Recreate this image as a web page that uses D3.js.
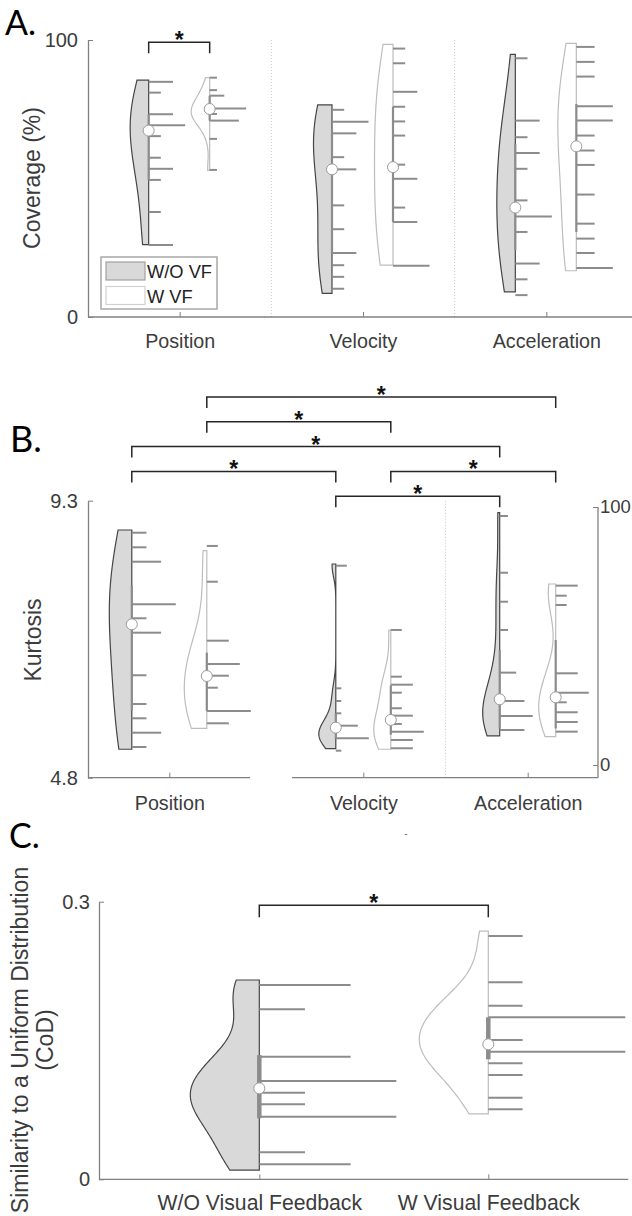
<!DOCTYPE html>
<html>
<head>
<meta charset="utf-8">
<script src="https://cdn.jsdelivr.net/npm/d3@7"></script>
<style>
  body { margin: 0; background: #fff; }
  svg { display: block; font-family: "Liberation Sans", Arial, sans-serif; }
</style>
</head>
<body>
<script>
// ---------------- data (bins: [bin centre, number of participants]) ----------------
const groups = ["W/O VF", "W VF"];

// A. Coverage (%)
const covCategories = ["Position", "Velocity", "Acceleration"];
const covBinsWO = [
  [[84.9,2],[81.0,1],[73.2,2],[69.2,3],[65.3,1],[57.5,1],[53.5,2],[49.5,1],[37.9,1],[26.0,2]],
  [[74.8,1],[70.5,3],[66.3,2],[57.7,1],[53.3,2],[40.3,1],[31.7,1],[23.1,2],[18.7,1],[14.5,1],[10.2,1]],
  [[93.4,1],[70.9,2],[64.9,1],[59.2,2],[53.5,1],[42.1,1],[36.3,3],[30.7,1],[19.3,2],[13.6,1],[7.9,1]]
];
const covBinsW = [
  [[86.4,1],[81.9,1],[79.9,2],[75.3,5],[73.3,1],[70.9,4],[64.3,1],[53.1,1]],
  [[96.9,1],[91.6,1],[81.3,2],[75.9,1],[70.6,1],[65.5,1],[55.0,1],[49.9,2],[39.5,1],[34.3,2],[18.5,3]],
  [[97.5,1],[92.1,1],[86.8,1],[76.1,2],[70.9,2],[65.5,1],[60.1,1],[54.9,1],[44.2,1],[33.7,1],[28.3,1],[23.1,1],[17.7,2]]
];
const covMedianWO = [67.3, 53.3, 39.5];
const covMedianW = [75.1, 54.1, 61.6];
const covIqrWO = [[49.5, 73.2], [22.9, 67.9], [24.1, 62.5]];
const covIqrW = [[70.9, 79.9], [34.3, 75.9], [30.7, 76.9]];
const covRangeWO = [[26.1, 85.5], [8.5, 76.6], [9.1, 94.8]];
const covRangeW = [[52.9, 86.4], [18.7, 98.4], [16.7, 98.8]];

// B. Kurtosis
const kurtCategories = ["Position", "Velocity", "Acceleration"];
const kurtBinsWO = [
  [[8.780,1],[8.543,1],[8.309,2],[7.617,3],[7.390,1],[7.156,2],[6.464,1],[5.997,1],[5.765,1],[5.531,2],[5.299,1]],
  [[8.244,2],[6.252,1],[6.046,1],[5.846,1],[5.645,4],[5.440,6],[5.239,1]],
  [[9.051,1],[8.130,1],[7.659,1],[7.200,1],[6.507,2],[6.046,3],[5.803,4],[5.575,3]]
];
const kurtBinsW = [
  [[8.565,1],[7.984,1],[7.026,2],[6.647,3],[6.457,2],[6.262,1],[5.884,4],[5.684,2]],
  [[7.200,1],[6.441,1],[6.311,2],[6.181,1],[5.928,1],[5.808,2],[5.673,1],[5.548,3],[5.413,2],[5.278,2]],
  [[7.920,2],[7.757,1],[7.606,1],[6.496,2],[6.181,3],[6.025,1],[5.863,2],[5.705,2],[5.548,2]]
];
const kurtMedianWO = [7.292, 5.613, 6.074];
const kurtMedianW = [6.452, 5.738, 6.106];
const kurtIqrWO = [[5.894, 7.925], [5.44, 5.85], [5.60, 6.875]];
const kurtIqrW = [[5.884, 6.832], [5.50, 6.30], [5.60, 7.037]];
const kurtRangeWO = [[5.262, 8.824], [5.271, 8.272], [5.478, 9.105]];
const kurtRangeW = [[5.602, 8.488], [5.262, 7.197], [5.466, 7.947]];
// significant pairs: [category, group] -> [category, group], bracket level (0 = top)
const kurtPairs = [
  [[0,1],[2,1],0], [[0,1],[1,1],1], [[0,0],[2,0],2],
  [[0,0],[1,0],3], [[1,1],[2,1],3], [[1,0],[2,0],4]
];

// C. Similarity to a uniform distribution (CoD)
const codCategories = ["W/O Visual Feedback", "W Visual Feedback"];
const codBins = [
  [[0.2100,2],[0.1837,1],[0.1325,2],[0.1062,3],[0.0936,1],[0.0810,1],[0.0677,3],[0.0292,1],[0.0162,2]],
  [[0.2629,1],[0.2129,1],[0.1876,1],[0.1751,4],[0.1505,1],[0.1379,4],[0.1254,1],[0.1127,1],[0.0882,1],[0.0756,1]]
];
const codMedian = [0.0983, 0.1459];
const codIqr = [[0.0659, 0.1343], [0.1297, 0.1751]];
const codRange = [[0.0100, 0.2154], [0.0706, 0.2683]];

// ---------------- drawing ----------------
var W = 632, H = 1216;
var axisColor = "#808080", textColor = "#3c3c3c", lineColor = "#8c8c8c";

var svg = d3.select("body").append("svg")
    .attr("width", W)
    .attr("height", H);
svg.append("rect").attr("width", W).attr("height", H).attr("fill", "#fff");

// kernel density (normal kernel, ksdensity-like bandwidth) over the data range
function kde(bins, range) {
    var vals = bins.flatMap(d => d3.range(d[1]).map(() => d[0]));
    var med = d3.median(vals);
    var mad = d3.median(vals, v => Math.abs(v - med));
    var h = mad / 0.6745 * Math.pow(4 / (3 * vals.length), 0.2);
    return d3.range(121).map(i => {
        var y = range[0] + (range[1] - range[0]) * i / 120;
        return [y, d3.sum(bins, d => d[1] * Math.exp(-0.5 * Math.pow((y - d[0]) / h, 2)))];
    });
}

function drawViolin(g, v) {
    var dens = kde(v.bins, v.range);
    var dmax = d3.max(dens, d => d[1]);
    var area = d3.area()
        .x0(v.edge)
        .x1(d => v.edge - v.maxWidth * d[1] / dmax)
        .y(d => v.y(d[0]));

    g.append("path")
        .attr("d", area(dens))
        .attr("fill", v.filled ? "#d9d9d9" : "#fff")
        .attr("stroke", v.filled ? "#454545" : "#bdbdbd")
        .attr("stroke-width", 1.2);

    var len = d3.scaleLinear()
        .domain([0, d3.max(v.bins, d => d[1])])
        .range([0, v.maxLen]);

    g.append("g").selectAll("line")
        .data(v.bins)
        .join("line")
        .attr("x1", v.edge)
        .attr("x2", d => v.edge + len(d[1]))
        .attr("y1", d => v.y(d[0]))
        .attr("y2", d => v.y(d[0]))
        .attr("stroke", lineColor)
        .attr("stroke-width", 2);

    g.append("line")
        .attr("x1", v.edge).attr("x2", v.edge)
        .attr("y1", v.y(v.iqr[0])).attr("y2", v.y(v.iqr[1]))
        .attr("stroke", lineColor)
        .attr("stroke-width", v.boxWidth);

    g.append("circle")
        .attr("cx", v.edge)
        .attr("cy", v.y(v.median))
        .attr("r", 5.5)
        .attr("fill", "#fff")
        .attr("stroke", "#9a9a9a")
        .attr("stroke-width", 1);
}

function drawBracket(g, x1, x2, yLine, leg) {
    g.append("path")
        .attr("d", "M" + x1 + "," + (yLine + leg) + "V" + yLine + "H" + x2 + "V" + (yLine + leg))
        .attr("fill", "none")
        .attr("stroke", "#262626")
        .attr("stroke-width", 1.5);
    g.append("text")
        .attr("x", (x1 + x2) / 2)
        .attr("y", yLine + 6)
        .attr("text-anchor", "middle")
        .attr("font-size", 23)
        .attr("font-weight", "bold")
        .attr("fill", "#111")
        .text("*");
}

function leftAxis(g, y, x, fmt, padding) {
    g.append("g")
        .attr("transform", "translate(" + x + ",0)")
        .call(d3.axisLeft(y).tickValues(y.domain()).tickFormat(fmt)
            .tickSizeInner(-5).tickSizeOuter(0).tickPadding(padding))
        .call(s => s.select(".domain").attr("stroke", axisColor).attr("stroke-width", 1.3))
        .call(s => s.selectAll(".tick line").attr("stroke", axisColor))
        .call(s => s.selectAll(".tick text").attr("fill", textColor)
            .attr("font-size", 20).attr("font-family", null));
}

function bottomAxis(g, x, cats, yPos, fontSize, padding) {
    g.append("g")
        .attr("transform", "translate(0," + yPos + ")")
        .call(d3.axisBottom(x).tickValues(cats).tickSizeInner(-5).tickSizeOuter(0).tickPadding(padding))
        .call(s => s.select(".domain").remove())
        .call(s => s.selectAll(".tick line").attr("stroke", axisColor))
        .call(s => s.selectAll(".tick text").attr("fill", textColor)
            .attr("font-size", fontSize).attr("font-family", null));
}

function yLabel(g, lines, x, yc, dx) {
    var t = g.append("text")
        .attr("transform", "translate(" + x + "," + yc + ") rotate(-90)")
        .attr("text-anchor", "middle")
        .attr("font-size", 23)
        .attr("fill", textColor);
    lines.forEach((l, i) => t.append("tspan").attr("x", 0).attr("dy", i ? dx : 0).text(l));
}

function panelLetter(txt, x, y, size) {
    svg.append("text")
        .attr("x", x).attr("y", y)
        .attr("font-family", "Lato, 'Open Sans', sans-serif")
        .attr("font-size", size)
        .attr("fill", "#000")
        .text(txt);
}

// ===== Panel A =====
var gA = svg.append("g");
var frameA = {left: 88, right: 638, top: 40, bottom: 317};
var yA = d3.scaleLinear().domain([0, 100]).range([frameA.bottom, frameA.top]);
var xA = d3.scalePoint().domain(covCategories).range([frameA.left, frameA.right]).padding(0.5);

// dotted separators
gA.selectAll("line.sep")
    .data(covCategories.slice(1))
    .join("line")
    .attr("x1", (d, i) => (xA(covCategories[i]) + xA(d)) / 2)
    .attr("x2", (d, i) => (xA(covCategories[i]) + xA(d)) / 2)
    .attr("y1", frameA.top).attr("y2", frameA.bottom)
    .attr("stroke", "#c8c8c8").attr("stroke-dasharray", "1,2");

leftAxis(gA, yA, frameA.left, d3.format("d"), 10);
gA.append("line").attr("x1", frameA.left).attr("x2", frameA.right)
    .attr("y1", frameA.bottom).attr("y2", frameA.bottom)
    .attr("stroke", axisColor).attr("stroke-width", 1.3);
bottomAxis(gA, xA, covCategories, frameA.bottom, 19.7, 17);

covCategories.forEach((c, i) => {
    drawViolin(gA, {edge: xA(c) - 31, y: yA, bins: covBinsWO[i], median: covMedianWO[i],
        iqr: covIqrWO[i], range: covRangeWO[i], filled: true, maxWidth: 18.5, maxLen: 36.5, boxWidth: 2.2});
    drawViolin(gA, {edge: xA(c) + 30, y: yA, bins: covBinsW[i], median: covMedianW[i],
        iqr: covIqrW[i], range: covRangeW[i], filled: false, maxWidth: 18.5, maxLen: 36.5, boxWidth: 2.2});
});
drawBracket(gA, xA("Position") - 31, xA("Position") + 30, yA(99.2), 11);
yLabel(gA, ["Coverage (%)"], 40, 178, 0);

// legend
var legA = gA.append("g").attr("transform", "translate(101,257)");
legA.append("rect").attr("width", 116).attr("height", 52)
    .attr("fill", "#fff").attr("stroke", "#a8a8a8").attr("stroke-width", 1.5);
groups.forEach((gname, i) => {
    legA.append("rect")
        .attr("x", 5).attr("y", 5 + i * 24.5).attr("width", 39).attr("height", 18)
        .attr("fill", i ? "#fff" : "#d9d9d9")
        .attr("stroke", i ? "#d0d0d0" : "#a0a0a0").attr("stroke-width", 1.2);
    legA.append("text")
        .attr("x", 46).attr("y", 21 + i * 24.5)
        .attr("font-size", 18.3).attr("fill", "#222")
        .text(gname);
});
panelLetter("A.", 5, 35, 34);

// ===== Panel B =====
var gB = svg.append("g");
var frameB = {left: 88, right: 598, top: 500.7, bottom: 777.7};
var yB = d3.scaleLinear().domain([4.8, 9.3]).range([frameB.bottom, frameB.top]);
var xB = d3.scaleOrdinal().domain(kurtCategories).range([169.3, 363.3, 527.7]);
var halfGapB = d3.scaleOrdinal().domain(kurtCategories).range([37.5, 27.5, 28]);
var widthB = d3.scaleOrdinal().domain(kurtCategories).range([22.5, 17, 17]);
var lenB = d3.scaleOrdinal().domain(kurtCategories).range([44, 33, 33]);
function edgeB(ci, gi) {
    var c = kurtCategories[ci];
    return xB(c) + (gi ? 1 : -1) * halfGapB(c);
}

gB.append("line")
    .attr("x1", (xB("Velocity") + xB("Acceleration")) / 2)
    .attr("x2", (xB("Velocity") + xB("Acceleration")) / 2)
    .attr("y1", frameB.top).attr("y2", frameB.bottom)
    .attr("stroke", "#c8c8c8").attr("stroke-dasharray", "1,2");

leftAxis(gB, yB, frameB.left, d3.format(".1f"), 10);
// x axis line (with the small break seen in the figure)
gB.append("path")
    .attr("d", "M" + frameB.left + "," + frameB.bottom + "H250M292," + frameB.bottom + "H" + frameB.right)
    .attr("stroke", axisColor).attr("stroke-width", 1.3).attr("fill", "none");
bottomAxis(gB, xB, kurtCategories, frameB.bottom, 19.7, 18);

// right axis (0-100)
var yBr = d3.scaleLinear().domain([0, 100]).range([765, 507]);
gB.append("g")
    .attr("transform", "translate(" + frameB.right + ",0)")
    .call(d3.axisRight(yBr).tickValues([0, 100]).tickSizeInner(-5).tickSizeOuter(0).tickPadding(2))
    .call(s => s.select(".domain").attr("d", "M0," + yBr(100) + "V" + frameB.bottom)
        .attr("stroke", axisColor).attr("stroke-width", 1.3))
    .call(s => s.selectAll(".tick line").attr("stroke", axisColor))
    .call(s => s.selectAll(".tick text").attr("fill", textColor)
        .attr("font-size", 18.5).attr("font-family", null));

kurtCategories.forEach((c, i) => {
    drawViolin(gB, {edge: edgeB(i, 0), y: yB, bins: kurtBinsWO[i], median: kurtMedianWO[i],
        iqr: kurtIqrWO[i], range: kurtRangeWO[i], filled: true, maxWidth: widthB(c), maxLen: lenB(c), boxWidth: 2.2});
    drawViolin(gB, {edge: edgeB(i, 1), y: yB, bins: kurtBinsW[i], median: kurtMedianW[i],
        iqr: kurtIqrW[i], range: kurtRangeW[i], filled: false, maxWidth: widthB(c), maxLen: lenB(c), boxWidth: 2.2});
});
kurtPairs.forEach(p => {
    drawBracket(gB, edgeB(p[0][0], p[0][1]), edgeB(p[1][0], p[1][1]), 397 + p[2] * 24.8, 11);
});
yLabel(gB, ["Kurtosis"], 41, 640, 0);
gB.append("text").attr("x", 406).attr("y", 837).attr("text-anchor", "middle")
    .attr("font-size", 10).attr("fill", "#666").text("-");
panelLetter("B.", 10, 452, 36);

// ===== Panel C =====
var gC = svg.append("g");
var frameC = {left: 99, right: 628.3, top: 901.7, bottom: 1179.3};
var yC = d3.scaleLinear().domain([0, 0.3]).range([frameC.bottom, frameC.top]);
var xC = d3.scaleOrdinal().domain(codCategories).range([259.3, 488.3]);

leftAxis(gC, yC, frameC.left, d => d === 0 ? "0" : d3.format(".1f")(d), 9);
gC.append("line").attr("x1", frameC.left).attr("x2", frameC.right)
    .attr("y1", frameC.bottom).attr("y2", frameC.bottom)
    .attr("stroke", axisColor).attr("stroke-width", 1.3);
bottomAxis(gC, xC, codCategories, frameC.bottom, 21.2, 16);

codCategories.forEach((c, i) => {
    drawViolin(gC, {edge: xC(c), y: yC, bins: codBins[i], median: codMedian[i],
        iqr: codIqr[i], range: codRange[i], filled: i === 0, maxWidth: 69, maxLen: 137, boxWidth: 4.5});
});
drawBracket(gC, xC(codCategories[0]), xC(codCategories[1]), yC(0.2962), 12);
yLabel(gC, ["Similarity to a Uniform Distribution", "(CoD)"], 28, 1040, 25);
panelLetter("C.", 9, 848, 34);
</script>
</body>
</html>
